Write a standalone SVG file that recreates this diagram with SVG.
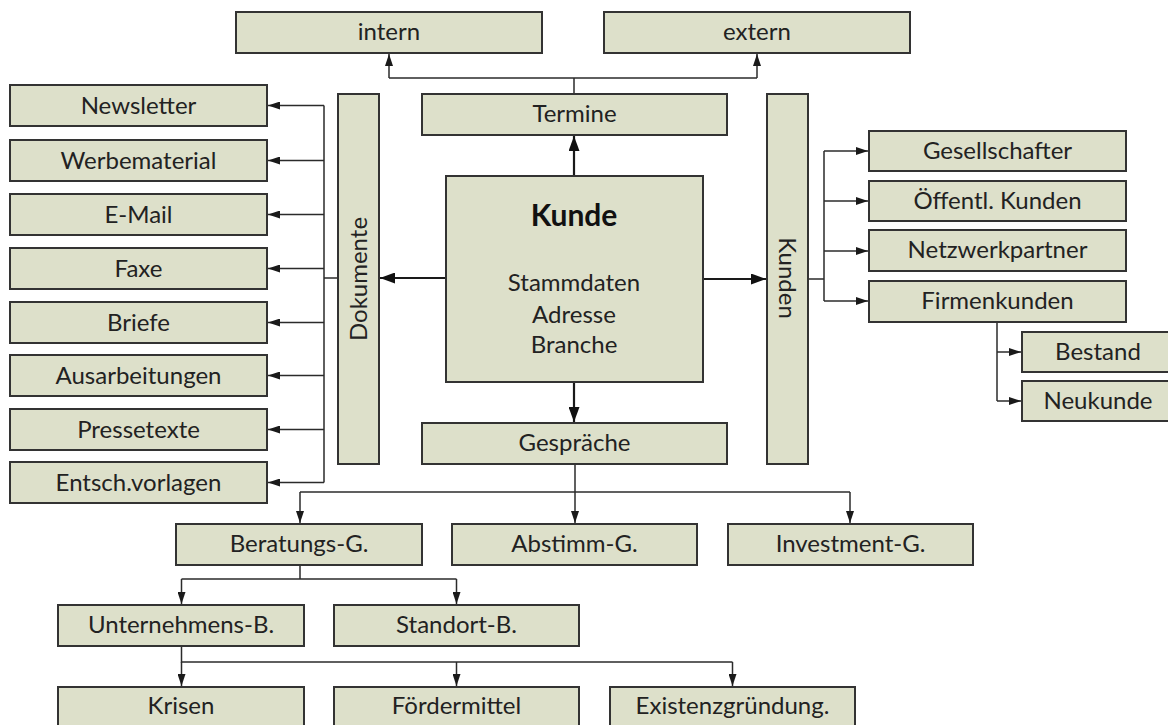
<svg xmlns="http://www.w3.org/2000/svg" width="1168" height="725" viewBox="0 0 1168 725">
<defs>
<style>
.b{fill:#dde0ca;stroke:#333333;stroke-width:2}
.t{font-family:Lato,"Open Sans","Liberation Sans",sans-serif;font-size:24px;fill:#222222;text-anchor:middle}
.k{font-weight:bold;font-size:30px;fill:#111}
.c{fill:none;stroke:#2b2b2b;stroke-width:1.5}
.a{fill:none;stroke:#2b2b2b;stroke-width:1.5;marker-end:url(#ah)}
.A{fill:none;stroke:#1a1a1a;stroke-width:2.2;marker-end:url(#AH)}
</style>
<marker id="ah" viewBox="0 0 12 8" refX="12" refY="4" markerWidth="12" markerHeight="8" markerUnits="userSpaceOnUse" orient="auto"><path d="M0,0 L12,4 L0,8 Z" fill="#1a1a1a"/></marker>
<marker id="AH" viewBox="0 0 15 11" refX="15" refY="5.5" markerWidth="15" markerHeight="11" markerUnits="userSpaceOnUse" orient="auto"><path d="M0,0 L15,5.5 L0,11 Z" fill="#111"/></marker>
</defs>
<rect width="1168" height="725" fill="#ffffff"/>
<g id="connectors">
<path class="c" d="M574,94 V78 M389,78 H757"/>
<path class="a" d="M389,78 V54"/>
<path class="a" d="M757,78 V54"/>
<path class="A" d="M574,176 V136"/>
<path class="A" d="M446,278 H380"/>
<path class="A" d="M703,279 H766"/>
<path class="A" d="M574,382 V422"/>
<path class="c" d="M338,278 H324 M324,105.5 V482.5"/>
<path class="a" d="M324,105.5 H268"/>
<path class="a" d="M324,160.5 H268"/>
<path class="a" d="M324,214.5 H268"/>
<path class="a" d="M324,268.5 H268"/>
<path class="a" d="M324,322.5 H268"/>
<path class="a" d="M324,375.5 H268"/>
<path class="a" d="M324,429.5 H268"/>
<path class="a" d="M324,482.5 H268"/>
<path class="c" d="M808,279 H824 M824,151 V301"/>
<path class="a" d="M824,151 H868"/>
<path class="a" d="M824,201 H868"/>
<path class="a" d="M824,251 H868"/>
<path class="a" d="M824,301 H868"/>
<path class="c" d="M997,322 V401"/>
<path class="a" d="M997,352 H1021"/>
<path class="a" d="M997,401 H1021"/>
<path class="c" d="M300,492 H850"/>
<path class="a" d="M575,464 V523"/>
<path class="a" d="M300,492 V523"/>
<path class="a" d="M850,492 V523"/>
<path class="c" d="M300,565 V579 M181.5,579 H456.5"/>
<path class="a" d="M181.5,579 V604"/>
<path class="a" d="M456.5,579 V604"/>
<path class="c" d="M181.5,647 V662 H732.5"/>
<path class="a" d="M181.5,662 V686"/>
<path class="a" d="M456.5,662 V686"/>
<path class="a" d="M732.5,662 V686"/>
</g>
<g id="intern"><rect class="b" x="236" y="12" width="306" height="41"/><text class="t" x="389" y="40">intern</text></g>
<g id="extern"><rect class="b" x="604" y="12" width="306" height="41"/><text class="t" x="757" y="40">extern</text></g>
<g id="termine"><rect class="b" x="422" y="94" width="305" height="41"/><text class="t" x="574.5" y="122">Termine</text></g>
<g id="dokumente"><rect class="b" x="338" y="94" width="41" height="370"/><text class="t" transform="translate(366.5,279) rotate(-90)">Dokumente</text></g>
<g id="kunden"><rect class="b" x="767" y="94" width="41" height="370"/><text class="t" transform="translate(778.5,278) rotate(90)">Kunden</text></g>
<g id="kunde"><rect class="b" x="446" y="176" width="257" height="206"/>
<text class="t k" x="574" y="226">Kunde</text>
<text class="t" x="574" y="291">Stammdaten</text>
<text class="t" x="574" y="323">Adresse</text>
<text class="t" x="574" y="353">Branche</text></g>
<g id="gespraeche"><rect class="b" x="422" y="423" width="305" height="41"/><text class="t" x="574.5" y="451">Gespräche</text></g>
<g id="newsletter"><rect class="b" x="10" y="85" width="257" height="41"/><text class="t" x="138.5" y="114">Newsletter</text></g>
<g id="werbematerial"><rect class="b" x="10" y="140" width="257" height="41"/><text class="t" x="138.5" y="169">Werbematerial</text></g>
<g id="email"><rect class="b" x="10" y="194" width="257" height="41"/><text class="t" x="138.5" y="223">E-Mail</text></g>
<g id="faxe"><rect class="b" x="10" y="248" width="257" height="41"/><text class="t" x="138.5" y="277">Faxe</text></g>
<g id="briefe"><rect class="b" x="10" y="302" width="257" height="41"/><text class="t" x="138.5" y="331">Briefe</text></g>
<g id="ausarbeitungen"><rect class="b" x="10" y="355" width="257" height="41"/><text class="t" x="138.5" y="384">Ausarbeitungen</text></g>
<g id="pressetexte"><rect class="b" x="10" y="409" width="257" height="41"/><text class="t" x="138.5" y="438">Pressetexte</text></g>
<g id="entsch"><rect class="b" x="10" y="462" width="257" height="41"/><text class="t" x="138.5" y="491">Entsch.vorlagen</text></g>
<g id="gesellschafter"><rect class="b" x="869" y="131" width="257" height="40"/><text class="t" x="997.5" y="159">Gesellschafter</text></g>
<g id="oeffentl"><rect class="b" x="869" y="181" width="257" height="40"/><text class="t" x="997.5" y="209">Öffentl. Kunden</text></g>
<g id="netzwerk"><rect class="b" x="869" y="230" width="257" height="41"/><text class="t" x="997.5" y="258">Netzwerkpartner</text></g>
<g id="firmenkunden"><rect class="b" x="869" y="281" width="257" height="41"/><text class="t" x="997.5" y="309">Firmenkunden</text></g>
<g id="bestand"><rect class="b" x="1022" y="332" width="152" height="40"/><text class="t" x="1098" y="360">Bestand</text></g>
<g id="neukunde"><rect class="b" x="1022" y="381" width="152" height="40"/><text class="t" x="1098" y="409">Neukunde</text></g>
<g id="beratung"><rect class="b" x="176" y="524" width="246" height="41"/><text class="t" x="299" y="552">Beratungs-G.</text></g>
<g id="abstimm"><rect class="b" x="452" y="524" width="245" height="41"/><text class="t" x="574.5" y="552">Abstimm-G.</text></g>
<g id="investment"><rect class="b" x="728" y="524" width="245" height="41"/><text class="t" x="850.5" y="552">Investment-G.</text></g>
<g id="unternehmens"><rect class="b" x="58" y="605" width="246" height="41"/><text class="t" x="181" y="633">Unternehmens-B.</text></g>
<g id="standort"><rect class="b" x="334" y="605" width="245" height="41"/><text class="t" x="456.5" y="633">Standort-B.</text></g>
<g id="krisen"><rect class="b" x="58" y="687" width="246" height="41"/><text class="t" x="181" y="714">Krisen</text></g>
<g id="foerdermittel"><rect class="b" x="334" y="687" width="245" height="41"/><text class="t" x="456.5" y="714">Fördermittel</text></g>
<g id="existenz"><rect class="b" x="610" y="687" width="245" height="41"/><text class="t" x="732.5" y="714">Existenzgründung.</text></g>
</svg>
